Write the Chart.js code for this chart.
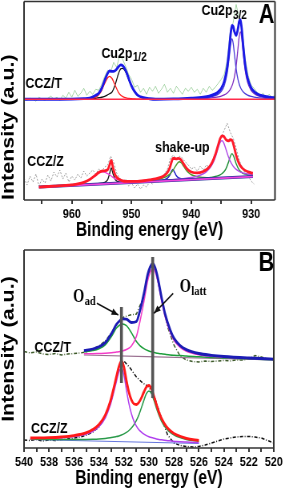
<!DOCTYPE html>
<html lang="en">
<head>
<meta charset="UTF-8">
<title>XPS Cu2p / O1s</title>
<script src="https://cdn.jsdelivr.net/npm/chart.js"></script>
<style>
  html, body { margin: 0; padding: 0; background: #fff; overflow: hidden; }
  #page { position: relative; width: 285px; height: 491px; overflow: hidden; }
  /* the figure is horizontally squeezed, so draw wide and scale down */
  .panel { position: absolute; left: 0; width: 356px; transform: scaleX(0.80056); transform-origin: 0 0; }
  #panelA { top: 0; height: 245px; }
  #panelB { top: 245px; height: 246px; }
</style>
</head>
<body>
<div id="page">
  <div class="panel" id="panelA"><canvas id="chartA"></canvas></div>
  <div class="panel" id="panelB"><canvas id="chartB"></canvas></div>
</div>
<script>
const FONT = "'Liberation Sans', Arial, sans-serif";
const SERIF = "'Liberation Serif', 'Times New Roman', serif";

// ---------- Panel A: Cu2p ----------
const aRawE = [968, 967.5, 967, 966.5, 966, 965.5, 965, 964.5, 964, 963.5, 963, 962.5, 962, 961.5, 961, 960.5, 960, 959.5, 959, 958.5, 958, 957.5, 957, 956.5, 956, 955.5, 955, 954.5, 954, 953.5, 953, 952.5, 952, 951.5, 951, 950.5, 950, 949.5, 949, 948.5, 948, 947.5, 947, 946.5, 946, 945.5, 945, 944.5, 944, 943.5, 943, 942.5, 942, 941.5, 941, 940.5, 940, 939.5, 939, 938.5, 938, 937.5, 937, 936.5, 936, 935.5, 935, 934.5, 934, 933.5, 933, 932.5, 932, 931.5, 931, 930.5, 930, 929.5, 929, 928.5, 928, 927.5, 927, 926.5, 926];
const aRawT = [101, 100, 102, 101, 99, 103, 101, 100, 102, 104, 101, 103, 100, 105, 102, 108, 103, 110, 104, 107, 112, 105, 109, 106, 111, 110, 116, 124, 130, 128, 138, 133, 145, 141, 134, 126, 121, 113, 115, 108, 112, 106, 113, 109, 114, 107, 111, 116, 108, 112, 107, 114, 110, 106, 112, 109, 113, 108, 111, 106, 112, 108, 114, 110, 113, 117, 121, 126, 140, 168, 178, 196, 182, 170, 142, 125, 115, 112, 108, 104, 107, 102, 106, 103, 105];
const aRawZ = [22, 15, 24, 18, 26, 14, 21, 17, 25, 19, 28, 23, 30, 21, 27, 18, 24, 20, 26, 22, 29, 24, 27, 30, 26, 31, 29, 33, 35, 44, 38, 27, 22, 18, 21, 14, 17, 12, 16, 11, 15, 13, 18, 16, 20, 18, 23, 26, 31, 42, 45, 40, 44, 42, 38, 35, 31, 33, 29, 34, 30, 35, 33, 39, 47, 55, 63, 70, 77, 68, 62, 52, 40, 33, 27, 24, 19, 16, null, null, null, null, null, null, null];

// CCZ/T fit
const aTopBaseE = [968, 926];
const aTopBase = [101, 101];
const aTopEnvE = [968, 962, 958, 957, 956, 955.5, 955, 954.5, 954, 953.7, 953.3, 953, 952.6, 952.2, 951.8, 951.5, 951.2, 950.8, 950.4, 950, 949.5, 949, 948, 947, 946, 943, 940, 938, 937, 936, 935.5, 935, 934.5, 934, 933.7, 933.4, 933.2, 933, 932.8, 932.5, 932.2, 932, 931.8, 931.6, 931.3, 931, 930.6, 930, 929.5, 929, 928, 927, 926];
const aTopEnv = [101, 101, 101.6, 102.1, 105, 107, 112, 120, 127, 129.5, 129, 129, 130.5, 133.5, 135.5, 134.8, 132.3, 127.2, 120.3, 114.3, 108.8, 105.2, 102.6, 101.5, 101, 101.3, 102.1, 103.1, 104.2, 106.4, 108.5, 112, 118.9, 133.4, 149.2, 167.8, 175, 174.1, 168.8, 165, 171.8, 178.9, 180.7, 173.2, 153, 135.9, 122.3, 112.6, 108.8, 106.6, 104.3, 103.2, 102.5];
const aT12E = [958, 957, 956, 955.5, 955, 954.5, 954, 953.7, 953.3, 953, 952.6, 952.2, 951.8, 951.5, 951.2, 950.8, 950.4, 950, 949.5, 949, 948, 947, 946];
const aT12Red = [101.2, 101.5, 103, 105.5, 110, 117, 122.5, 124, 122, 118.5, 113, 108, 105, 103.8, 102.8, 102.2, 101.8, 101.6, 101.3, 101.2, 101.1, 101, 101];
const aT12Black = [101.4, 101.6, 102, 102.5, 103, 104, 105.5, 106.5, 108, 111.5, 118.5, 126.5, 131.5, 132, 130.5, 126, 119.5, 113.7, 108.5, 105, 102.5, 101.5, 101];
const aT32E = [940, 938, 937, 936, 935.5, 935, 934.5, 934, 933.7, 933.4, 933.2, 933, 932.8, 932.5, 932.2, 932, 931.8, 931.6, 931.3, 931, 930.6, 930, 929.5, 929, 928, 927, 926];
const aT32a = [101.6, 102.3, 103, 104.6, 106.1, 109, 114.6, 127.2, 141.1, 156.9, 161.5, 156.9, 146.6, 131.3, 120.9, 116.4, 113.1, 110.7, 108.2, 106.6, 105.1, 103.8, 103.1, 102.6, 102.1, 101.8, 101.6];
const aT32b = [101.5, 101.9, 102.2, 102.8, 103.3, 104.1, 105.3, 107.2, 109.1, 111.9, 114.5, 118.2, 123.2, 134.8, 151.9, 163.5, 168.6, 163.5, 145.8, 130.3, 118.2, 109.9, 106.7, 105, 103.2, 102.4, 102];

// CCZ/Z fit
const aBotBaseE = [965.5, 929.7];
const aBotBase = [13, 23.5];
const aBotEnvE = [965.5, 963, 961, 960, 959, 958, 957, 956, 955.5, 955, 954.5, 954, 953.7, 953.4, 953.1, 952.8, 952.5, 952, 951.5, 951, 950, 949, 948, 947, 946, 945, 944.5, 944, 943.6, 943.3, 943.1, 942.8, 942.5, 942.2, 942, 941.7, 941.4, 941, 940.5, 940, 939, 938, 937.5, 937, 936.5, 936, 935.6, 935.2, 934.9, 934.6, 934.2, 933.8, 933.5, 933.2, 932.9, 932.5, 932, 931.5, 931, 930.5, 930, 929.7];
const aBotEnv = [13, 13.9, 14.6, 15.2, 16.1, 17.7, 20.6, 25.1, 27.5, 29, 29.3, 30.4, 34.8, 39.7, 32.1, 26, 22.8, 20.5, 19.2, 18.7, 18.7, 18.6, 19.3, 20.2, 21.2, 23, 24.7, 27.7, 32.5, 38.5, 41.7, 41.6, 41.2, 41.7, 41.6, 40, 37.3, 33.5, 30, 28.1, 27.1, 28.6, 30.3, 33.1, 37.8, 45.3, 53.3, 61.2, 64.3, 63.9, 60.5, 59.2, 60.4, 60, 54.4, 44.6, 36.4, 32, 29.7, 28.2, 27.3, 26.9];
const aZ12E = [961, 960, 959, 958, 957, 956, 955.5, 955, 954.5, 954, 953.7, 953.4, 953.1, 952.8, 952.5, 952, 951.5, 951, 950, 949, 948];
const aZ12Mag = [14.6, 15.2, 16.1, 17.7, 20.5, 24.8, 27.1, 28.3, 27.9, 26.4, 25.3, 24, 22.6, 21.5, 20.6, 19.5, 18.7, 18.2, 18, 18.1, 18.3];
const aZNarrowE = [956, 955, 954.5, 954, 953.7, 953.4, 953.1, 952.8, 952.5, 952, 951.5, 951, 950];
const aZNarrow = [16.1, 16.8, 17.6, 20.4, 26, 32.2, 26.1, 21.2, 19, 18, 17.6, 17.5, 17.7];
const aZSatE = [947, 946, 945, 944.5, 944, 943.6, 943.3, 943.1, 942.8, 942.5, 942.2, 942, 941.7, 941.4, 941, 940.5, 940, 939, 938, 937, 936];
const aZSatGreen = [19.4, 20.2, 21.6, 22.6, 24.2, 26, 28, 29.6, 32.4, 35.4, 37.7, 38.3, 37.3, 34.8, 31.1, 27.5, 25.3, 23.3, 22.6, 22.3, 22.4];
const aZSatBlue = [18.6, 19, 19.7, 20.4, 21.9, 24.9, 29, 30.6, 27.7, 24.3, 22.4, 21.8, 21.2, 20.9, 20.8, 20.7, 20.8, 20.9, 21.2, null, null];
const aZMainE = [945, 944, 942, 940, 939, 938, 937.5, 937, 936.5, 936, 935.6, 935.2, 934.9, 934.6, 934.2, 933.8, 933.5, 933.2, 932.9, 932.5, 932, 931.5, 931, 930.5, 930, 929.7];
const aZMainPurple = [19.6, 20, 21, 22.6, 24, 26.3, 28.2, 31.2, 35.7, 42.7, 50.3, 57.4, 59.5, 57.6, 50.7, 43.4, 39, 35.7, 33.1, 30.7, 28.7, 27.4, 26.6, 26.1, 25.7, 25.5];
const aZMainGreen = [null, null, null, 20.8, 21.2, 21.7, 22, 22.4, 22.8, 23.5, 24.2, 25.2, 26.3, 28, 31.5, 37.7, 43.4, 46.5, 43.6, 36.3, 30.2, 27.3, 25.9, 25.2, 24.8, 24.7];

// ---------- Panel B: O1s ----------
const bRawE = [540, 539.5, 539, 538.5, 538, 537.5, 537, 536.5, 536, 535.5, 535, 534.5, 534, 533.5, 533, 532.5, 532, 531.5, 531, 530.5, 530, 529.5, 529, 528.5, 528, 527.5, 527, 526.5, 526, 525.5, 525, 524.5, 524, 523.5, 523, 522.5, 522, 521.5, 521, 520.5, 520];
const bRawT = [92.5, 91, 92, 90, 89.5, 90.5, 89, 90, 90.5, 91, 92, 95, 98, 103, 111, 121, 127, 129, 130, 145, 172, 176, 146, 117, 99, 88, 84, 82.5, 82, 83, 82.5, 83, 83.5, 83, 84, 84, 85, 88.5, 87, 85, 84.5];
const bRawZ = [4, 3.5, 4.5, 3, 4, 3.5, 4.5, 5, 6, 7, 9, 12, 17, 27, 44, 72, 83, 76, 67, 61, 57, 45, 26, 9, 1, -1.5, -2.5, -3, -2.5, -1, 1, 3, 5, 6, 7, 7.5, 7.5, 7, 6, 3.5, 1];

const bTopE = [535.2, 534.5, 534, 533.5, 533, 532.6, 532.3, 532.1, 531.8, 531.4, 531, 530.7, 530.4, 530.1, 529.9, 529.7, 529.5, 529.3, 529, 528.7, 528.3, 528, 527.5, 527, 526, 525, 524, 522, 520];
const bTopEnv = [93.4, 95, 97.2, 101.4, 110.4, 119.6, 123.7, 125.1, 124.9, 121.5, 122.5, 134.2, 150.4, 169.5, 177, 180.7, 176.3, 166.7, 147.2, 129.7, 114.1, 105.8, 98.4, 94.4, 90.5, 88.7, 87.5, 86, 84.9];
const bTopLatt = [90.2, 90.3, 90.5, 90.7, 91.2, 91.9, 92.5, 93.1, 94.5, 98, 107.6, 123.5, 142.4, 163.3, 171.7, 176, 172.1, 163.1, 144, 126.9, 111.7, 103.6, 96.5, 92.8, 89.3, 87.8, 86.8, 85.6, 84.6];
const bTopAd = [92.2, 93.5, 95.3, 99.1, 107.5, 115.9, 119.3, 120, 118.3, 111.3, 102.5, 98.2, 95.4, 93.5, 92.6, 91.9, 91.3, 90.7, 90.2, 89.7, 89.1, 88.8, 88.4, 87.9, 87.2, 86.6, 86, 85.1, 84.3];
const bTopBaseE = [535.2, 520];
const bTopBase = [89, 84];

const bBotE = [539.5, 538, 537, 536, 535, 534.5, 534, 533.5, 533.1, 532.8, 532.6, 532.4, 532.2, 532, 531.8, 531.6, 531.4, 531.2, 531, 530.8, 530.6, 530.4, 530.2, 530, 529.8, 529.6, 529.4, 529.2, 529, 528.6, 528.2, 527.8, 527, 526];
const bBotEnv = [6, 6.3, 7, 8.4, 11.3, 14.4, 19.5, 28.9, 42.2, 56.8, 67.5, 77.5, 83, 77, 63.4, 51.8, 44.1, 40.1, 39.5, 41.6, 46.1, 52, 57.1, 58.7, 55.1, 47.8, 39.4, 31.9, 25.8, 17.4, 12.4, 9.2, 5.7, 3.5];
const bBotAd = [5.6, 5.8, 6.3, 7.4, 9.9, 12.6, 17.3, 26, 38.6, 52.4, 62.6, 72, 76, 69, 54, 40.5, 30.2, 22.9, 17.9, 14.3, 11.8, 9.9, 8.4, 7.3, 6.4, 5.7, 5.1, 4.6, 4.2, 3.5, 3, 2.5, 1.9, 1.3];
const bBotLatt = [4.9, 4.6, 4.5, 4.5, 4.6, 4.8, 5.1, 5.6, 6.2, 6.9, 7.4, 8.1, 9, 10.1, 11.6, 13.5, 16, 19.2, 23.6, 29.2, 36.2, 43.9, 50.5, 53.1, 50.3, 43.7, 35.8, 28.8, 23, 15.2, 10.6, 7.7, 4.6, 2.7];
const bBotBaseE = [539.5, 526];
const bBotBase = [4.5, 0.5];

// peak position markers (O_ad, O_latt)
const markE = [532.2, 529.7];
const markLow = [61, 46];
const markHigh = [137, 187];

const pts = (xs, ys) => xs.map((x, i) => ({ x, y: ys[i] }));

const curve = (xs, ys, color, width) => ({
  data: pts(xs, ys), borderColor: color, borderWidth: width,
  pointRadius: 0, fill: false, cubicInterpolationMode: 'monotone'
});
const raw = (xs, ys, color, width, dash) => ({
  data: pts(xs, ys), borderColor: color, borderWidth: width, borderDash: dash,
  pointRadius: 0, fill: false, tension: 0
});

const notesPlugin = {
  id: 'notes',
  afterDatasetsDraw(chart, args, opts) {
    const { ctx, chartArea: a, scales: { x, y } } = chart;
    ctx.save();
    // frame
    ctx.strokeStyle = '#333';
    ctx.lineWidth = 1.5;
    ctx.beginPath();
    ctx.moveTo(a.left, a.top); ctx.lineTo(a.right, a.top);
    ctx.moveTo(a.left, a.bottom); ctx.lineTo(a.right, a.bottom);
    ctx.stroke();
    ctx.lineWidth = 2;
    ctx.beginPath();
    ctx.moveTo(a.left, a.top); ctx.lineTo(a.left, a.bottom);
    ctx.moveTo(a.right, a.top); ctx.lineTo(a.right, a.bottom);
    ctx.stroke();

    (opts.arrows || []).forEach(ar => {
      const x1 = x.getPixelForValue(ar.from[0]), y1 = y.getPixelForValue(ar.from[1]);
      const x2 = x.getPixelForValue(ar.to[0]), y2 = y.getPixelForValue(ar.to[1]);
      const ang = Math.atan2(y2 - y1, x2 - x1);
      ctx.strokeStyle = '#111';
      ctx.fillStyle = '#111';
      ctx.lineWidth = 1.5;
      ctx.beginPath(); ctx.moveTo(x1, y1); ctx.lineTo(x2, y2); ctx.stroke();
      ctx.beginPath();
      ctx.moveTo(x2, y2);
      ctx.lineTo(x2 - 9 * Math.cos(ang - 0.38), y2 - 9 * Math.sin(ang - 0.38));
      ctx.lineTo(x2 - 9 * Math.cos(ang + 0.38), y2 - 9 * Math.sin(ang + 0.38));
      ctx.closePath();
      ctx.fill();
    });

    (opts.texts || []).forEach(t => {
      const fam = t.family || FONT;
      const px = x.getPixelForValue(t.x), py = y.getPixelForValue(t.y);
      ctx.fillStyle = '#000';
      ctx.font = `bold ${t.size}px ${fam}`;
      if (t.sub) {
        ctx.textAlign = 'left';
        ctx.textBaseline = 'alphabetic';
        ctx.fillText(t.text, px, py);
        const w = ctx.measureText(t.text).width;
        ctx.font = `bold ${t.subSize}px ${fam}`;
        ctx.fillText(t.sub, px + w + 0.5, py + t.subDrop);
      } else {
        ctx.textAlign = 'center';
        ctx.textBaseline = 'middle';
        ctx.fillText(t.text, px, py);
      }
    });
    ctx.restore();
  }
};

function panelOptions(cfg) {
  return {
    animation: false,
    responsive: true,
    maintainAspectRatio: false,
    layout: { padding: cfg.padding },
    plugins: {
      legend: { display: false },
      tooltip: { enabled: false },
      notes: { texts: cfg.texts, arrows: cfg.arrows }
    },
    scales: {
      x: {
        type: 'linear', reverse: true, min: cfg.xMin, max: cfg.xMax,
        afterFit: s => { s.height = cfg.xHeight; },
        border: { display: false },
        grid: { display: true, drawOnChartArea: false, drawTicks: true, tickLength: 4, color: '#333', lineWidth: 2 },
        ticks: {
          stepSize: cfg.step, includeBounds: false, autoSkip: false, maxRotation: 0, padding: 2,
          color: '#000', font: { family: FONT, size: 13.5, weight: 'bold' },
          callback: v => (v % cfg.labelEvery === 0 ? String(v) : '')
        },
        title: {
          display: true, text: 'Binding energy (eV)', color: '#000',
          font: { family: FONT, size: 19.5, weight: 'bold', lineHeight: 1.2 },
          padding: { top: 0, bottom: cfg.titlePad }
        }
      },
      y: {
        min: cfg.yMin, max: cfg.yMax,
        afterFit: s => { s.width = 30; },
        border: { display: false },
        grid: { display: false },
        ticks: { display: false },
        title: {
          display: true, text: 'Intensity (a.u.)', color: '#000', align: cfg.yTitleAlign,
          font: { family: FONT, size: 21.5, weight: 'bold', lineHeight: 1 },
          padding: { top: 0, bottom: 0 }
        }
      }
    }
  };
}

new Chart(document.getElementById('chartA'), {
  type: 'line',
  data: {
    datasets: [
      curve(aTopBaseE, aTopBase, '#ff2a4a', 1.6),
      curve(aTopEnvE, aTopEnv, '#1a1ae6', 2.8),
      curve(aT12E, aT12Red, '#ff2020', 1.3),
      curve(aT12E, aT12Black, '#111111', 1.3),
      curve(aT32E, aT32a, '#4a3ad8', 1.3),
      curve(aT32E, aT32b, '#7d2cc0', 1.3),
      curve(aBotEnvE, aBotEnv, '#ff1a2a', 2.8),
      curve(aBotBaseE, aBotBase, '#ee44dd', 1.8),
      curve(aBotBaseE, aBotBase, '#22309a', 3),
      curve(aZ12E, aZ12Mag, '#ee3ad8', 1.3),
      curve(aZNarrowE, aZNarrow, '#1a1a1a', 1.3),
      curve(aZMainE, aZMainPurple, '#b04ae8', 1.4),
      curve(aZMainE, aZMainGreen, '#23913a', 1.4),
      curve(aZSatE, aZSatGreen, '#4c9a2a', 1.4),
      curve(aZSatE, aZSatBlue, '#1a1ac8', 1.4),
      raw(aRawE, aRawT, 'rgba(110,185,110,0.6)', 1, []),
      raw(aRawE, aRawZ, 'rgba(140,140,140,0.85)', 1, [2, 1.5])
    ]
  },
  options: panelOptions({
    padding: { top: 1, right: 12.5, bottom: 0, left: 0 },
    xMin: 926, xMax: 968, step: 5, labelEvery: 10, xHeight: 45, titlePad: 3,
    yMin: 0, yMax: 199, yTitleAlign: 'start',
    texts: [
      { text: 'CCZ/T', x: 964.7, y: 117, size: 15.5 },
      { text: 'CCZ/Z', x: 964.4, y: 38, size: 15.5 },
      { text: 'shake-up', x: 941.5, y: 52, size: 15.5 },
      { text: 'Cu2p', sub: '1/2', x: 955.05, y: 142.7, size: 15.5, subSize: 12.5, subDrop: 3.5 },
      { text: 'Cu2p', sub: '3/2', x: 938.3, y: 185, size: 15.5, subSize: 12.5, subDrop: 3.5 },
      { text: 'A', x: 927.4, y: 185, size: 27 }
    ],
    arrows: []
  }),
  plugins: [notesPlugin]
});

new Chart(document.getElementById('chartB'), {
  type: 'line',
  data: {
    datasets: [
      raw([markE[0], markE[0]], [markLow[0], markHigh[0]], '#555555', 3.6, []),
      raw([markE[1], markE[1]], [markLow[1], markHigh[1]], '#555555', 3.6, []),
      curve(bTopE, bTopEnv, '#1c1cb4', 2.8),
      curve(bTopE, bTopLatt, '#f23cc8', 1.5),
      curve(bTopE, bTopAd, '#1e9e3c', 1.5),
      curve(bTopBaseE, bTopBase, '#9a7090', 1.2),
      curve(bBotE, bBotEnv, '#ff1a1a', 2.8),
      curve(bBotE, bBotAd, '#b040ee', 1.5),
      curve(bBotE, bBotLatt, '#2a9a4a', 1.5),
      curve(bBotBaseE, bBotBase, '#6677dd', 1.2),
      raw(bRawE, bRawT, '#3d5a2a', 1.5, [4, 2, 1, 2]),
      raw(bRawE, bRawZ, '#111111', 1.5, [4, 2, 1, 2])
    ]
  },
  options: panelOptions({
    padding: { top: 5, right: 14, bottom: 0, left: 0 },
    xMin: 520, xMax: 540, step: 1, labelEvery: 2, xHeight: 43, titlePad: 1,
    yMin: -4, yMax: 194, yTitleAlign: 'center',
    texts: [
      { text: 'CCZ/T', x: 537.7, y: 96, size: 15.5 },
      { text: 'CCZ/Z', x: 537.97, y: 15.7, size: 15.5 },
      { text: 'O', sub: 'ad', x: 536.08, y: 142.3, size: 18, subSize: 13, subDrop: 3, family: SERIF },
      { text: 'O', sub: 'latt', x: 527.53, y: 152.3, size: 18, subSize: 13, subDrop: 3, family: SERIF },
      { text: 'B', x: 520.6, y: 180.7, size: 27 }
    ],
    arrows: [
      { from: [534.17, 140.7], to: [532.45, 129] },
      { from: [528.06, 150.7], to: [529.6, 130.7] }
    ]
  }),
  plugins: [notesPlugin]
});
</script>
</body>
</html>
